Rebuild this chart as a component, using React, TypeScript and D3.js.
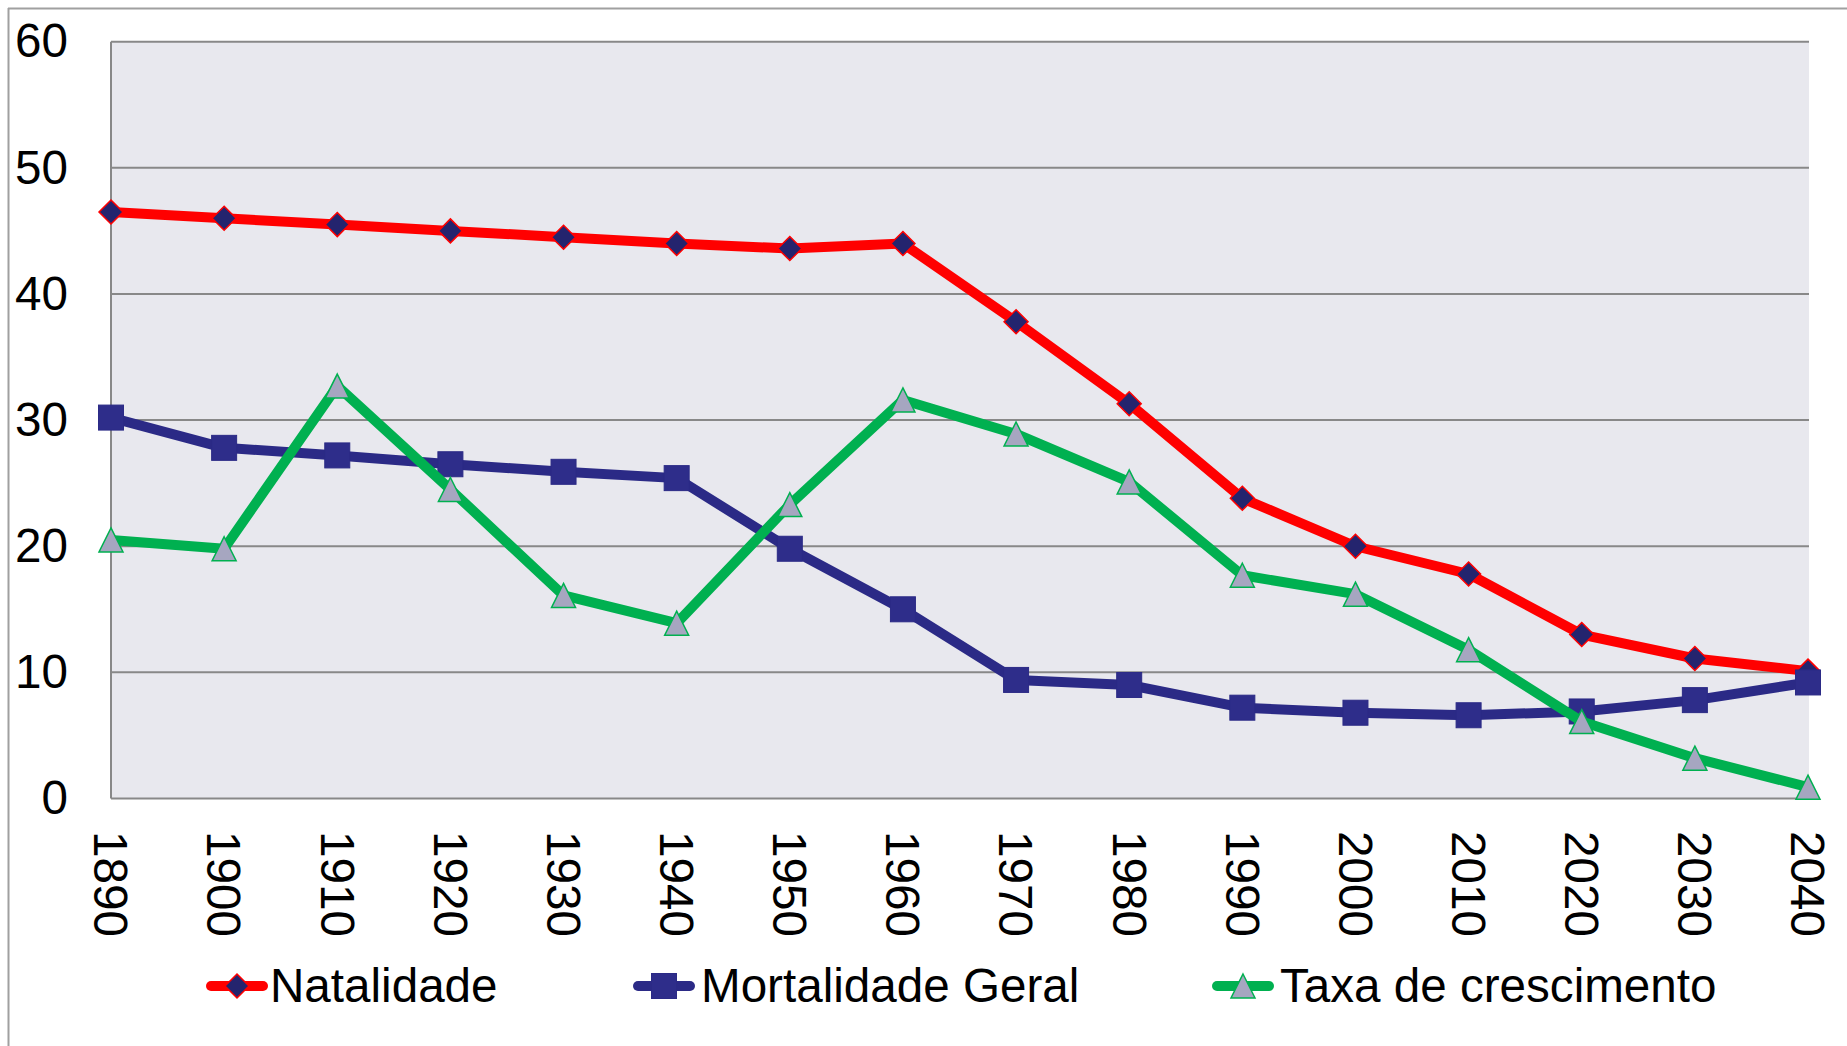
import React from 'react';
import * as d3 from 'd3';

const YEARS = [1890, 1900, 1910, 1920, 1930, 1940, 1950, 1960, 1970, 1980, 1990, 2000, 2010, 2020, 2030, 2040];
const NATALIDADE = [46.5, 46.0, 45.5, 45.0, 44.5, 44.0, 43.6, 44.0, 37.8, 31.3, 23.8, 20.0, 17.8, 13.0, 11.1, 10.1];
const MORTALIDADE = [30.2, 27.8, 27.2, 26.5, 25.9, 25.4, 19.8, 15.0, 9.4, 9.0, 7.2, 6.8, 6.6, 6.9, 7.8, 9.2];
const CRESCIMENTO = [20.5, 19.8, 32.7, 24.5, 16.1, 13.9, 23.3, 31.6, 28.9, 25.1, 17.7, 16.2, 11.8, 6.1, 3.2, 0.9];
const Y_TICKS = [0, 10, 20, 30, 40, 50, 60];

const W = 1847;
const H = 1046;
const FONT = '"Liberation Sans", Arial, sans-serif';
const FS = 47.6;

type Marker = 'diamond' | 'square' | 'triangle';

const SERIES: { name: string; values: number[]; color: string; marker: Marker }[] = [
  { name: 'Natalidade', values: NATALIDADE, color: '#ff0000', marker: 'diamond' },
  { name: 'Mortalidade Geral', values: MORTALIDADE, color: '#2b2a86', marker: 'square' },
  { name: 'Taxa de crescimento', values: CRESCIMENTO, color: '#00b050', marker: 'triangle' },
];

const LEGEND_X = [207, 634, 1213];

function MarkerShape({ kind, cx, cy }: { kind: Marker; cx: number; cy: number }) {
  if (kind === 'diamond') {
    const r = 12;
    return (
      <path d={`M${cx},${cy - r}L${cx + r},${cy}L${cx},${cy + r}L${cx - r},${cy}Z`}
        fill="#24246e" stroke="#ff0000" strokeWidth={1.5} />
    );
  }
  if (kind === 'square') {
    const s = 25;
    return <rect x={cx - s / 2} y={cy - s / 2} width={s} height={s} fill="#2e2d8a" stroke="#2b2a86" strokeWidth={1} />;
  }
  const hw = 12, hh = 12;
  return (
    <path d={`M${cx},${cy - hh}L${cx + hw},${cy + hh}L${cx - hw},${cy + hh}Z`}
      fill="#a6a6c0" stroke="#00b050" strokeWidth={1.5} />
  );
}

export default function App() {
  const x = d3.scaleLinear().domain([1890, 2040]).range([111, 1808]);
  const y = d3.scaleLinear().domain([0, 60]).range([798.5, 41.7]);
  const line = d3.line<number>().x((_, i) => x(YEARS[i])).y(v => y(v));

  return (
    <svg width={W} height={H} style={{ position: 'absolute', left: 0, top: 0, background: '#fff' }}
      fontFamily={FONT}>
      {/* outer frame */}
      <line x1={8.5} y1={8} x2={8.5} y2={H} stroke="#a0a0a0" strokeWidth={2} />
      <line x1={8} y1={8.5} x2={W} y2={8.5} stroke="#a0a0a0" strokeWidth={2} />

      {/* plot area */}
      <rect x={x(1890)} y={y(60)} width={1809 - x(1890)} height={y(0) - y(60)} fill="#e8e8ee" />
      {Y_TICKS.map(t => (
        <line key={t} x1={x(1890)} x2={1809} y1={y(t)} y2={y(t)} stroke="#888" strokeWidth={2} />
      ))}
      <line x1={x(1890)} x2={x(1890)} y1={y(60)} y2={y(0)} stroke="#888" strokeWidth={2} />

      {Y_TICKS.map(t => (
        <text key={t} x={68} y={y(t)} dy="0.33em" textAnchor="end" fontSize={FS} fill="#000">{t}</text>
      ))}
      {YEARS.map(yr => (
        <text key={yr} transform={`translate(${x(yr)},831) rotate(90)`} dy="0.35em" fontSize={FS} fill="#000">{yr}</text>
      ))}

      {SERIES.map(s => (
        <g key={s.name}>
          <path d={line(s.values) || ''} fill="none" stroke={s.color} strokeWidth={10} strokeLinejoin="round" />
          {s.values.map((v, i) => (
            <MarkerShape key={i} kind={s.marker} cx={x(YEARS[i])} cy={y(v)} />
          ))}
        </g>
      ))}

      {/* legend */}
      {SERIES.map((s, i) => {
        const lx = LEGEND_X[i];
        const ly = 986;
        return (
          <g key={s.name}>
            <line x1={lx + 4} x2={lx + 56} y1={ly} y2={ly} stroke={s.color} strokeWidth={10} strokeLinecap="round" />
            <MarkerShape kind={s.marker} cx={lx + 30} cy={ly} />
            <text x={lx + (i === 0 ? 63 : 67)} y={1002} fontSize={FS} fill="#000">{s.name}</text>
          </g>
        );
      })}
    </svg>
  );
}
